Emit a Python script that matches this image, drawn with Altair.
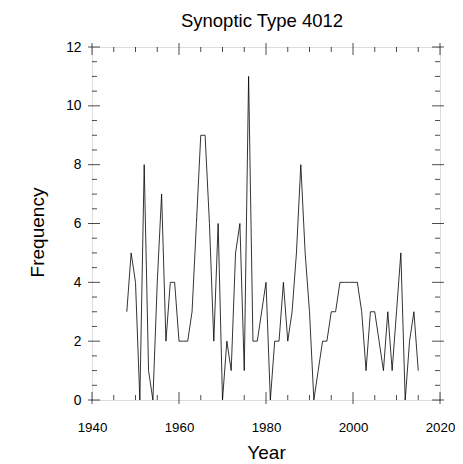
import altair as alt
import pandas as pd

years = list(range(1948, 2016))
freq = [3, 5, 4, 0, 8, 1, 0, 4, 7, 2,
        4, 4, 2, 2, 2, 3, 6, 9, 9, 6,
        2, 6, 0, 2, 1, 5, 6, 1, 11, 2,
        2, 3, 4, 0, 2, 2, 4, 2, 3, 5,
        8, 5, 3, 0, 1, 2, 2, 3, 3, 4,
        4, 4, 4, 4, 3, 1, 3, 3, 2, 1,
        3, 1, 3, 5, 0, 2, 3, 1]

x_major = [1940, 1960, 1980, 2000, 2020]
x_minor = [1945, 1950, 1955, 1965, 1970, 1975, 1985, 1990, 1995, 2005, 2010, 2015]
y_major = [0, 2, 4, 6, 8, 10, 12]
y_minor = [0.5, 1, 1.5, 2.5, 3, 3.5, 4.5, 5, 5.5, 6.5, 7, 7.5,
           8.5, 9, 9.5, 10.5, 11, 11.5]

FONT = "Liberation Sans"
W, H = 348, 353

df = pd.DataFrame({"year": years, "freq": freq})
xs = alt.Scale(domain=[1940, 2020], nice=False, zero=False)
ys = alt.Scale(domain=[0, 12], nice=False, zero=True)

line = alt.Chart(df).mark_line(color="black", strokeWidth=0.8).encode(
    x=alt.X("year:Q", scale=xs,
            axis=alt.Axis(values=x_major, format="d", ticks=False, domain=False, grid=False,
                          tickSize=0, labelPadding=20, labelFontSize=13.3, labelFont=FONT,
                          labelFlush=False, labelOverlap=False,
                          labelColor="black", title="Year", titleFontSize=19, titleFont=FONT,
                          titleFontWeight="normal", titlePadding=10, titleColor="black")),
    y=alt.Y("freq:Q", scale=ys,
            axis=alt.Axis(values=y_major, format="d", ticks=False, domain=False, grid=False,
                          tickSize=0, labelPadding=11, labelFontSize=13.8, labelFont=FONT,
                          labelFlush=False, labelOverlap=False,
                          labelColor="black", title="Frequency", titleFontSize=19, titleFont=FONT,
                          titleFontWeight="normal", titlePadding=18, titleColor="black",
                          titleY=185)),
)

def xticks(vals, size, at, off):
    d = pd.DataFrame({"t": vals})
    return alt.Chart(d).mark_tick(orient="vertical", size=size, thickness=1, color="black",
                                  yOffset=off).encode(
        x=alt.X("t:Q", scale=xs), y=alt.datum(at))

def yticks(vals, size, at, off):
    d = pd.DataFrame({"t": vals})
    return alt.Chart(d).mark_tick(orient="horizontal", size=size, thickness=1, color="black",
                                  xOffset=off).encode(
        y=alt.Y("t:Q", scale=ys), x=alt.datum(at))

layers = [
    line,
    xticks(x_major, 12, 0, -2), xticks(x_minor, 5, 0, -2.5),
    xticks(x_major, 12, 12, 2), xticks(x_minor, 5, 12, 2.5),
    yticks(y_major, 12, 1940, 2), yticks(y_minor, 5, 1940, 2.5),
    yticks(y_major, 12, 2020, -2), yticks(y_minor, 5, 2020, -2.5),
]

chart = alt.layer(*layers).properties(
    width=W, height=H,
    title=alt.TitleParams("Synoptic Type 4012", fontSize=18.5, font=FONT, fontWeight="normal",
                          anchor="middle", offset=10, color="black", dx=-4),
    autosize=alt.AutoSizeParams(type="none"),
    padding={"left": 84, "top": 39, "right": 15, "bottom": 64},
).configure_view(stroke="black", strokeWidth=1).configure(background="white")

chart.save("out.html", embed_options={"renderer": "svg", "actions": False})
